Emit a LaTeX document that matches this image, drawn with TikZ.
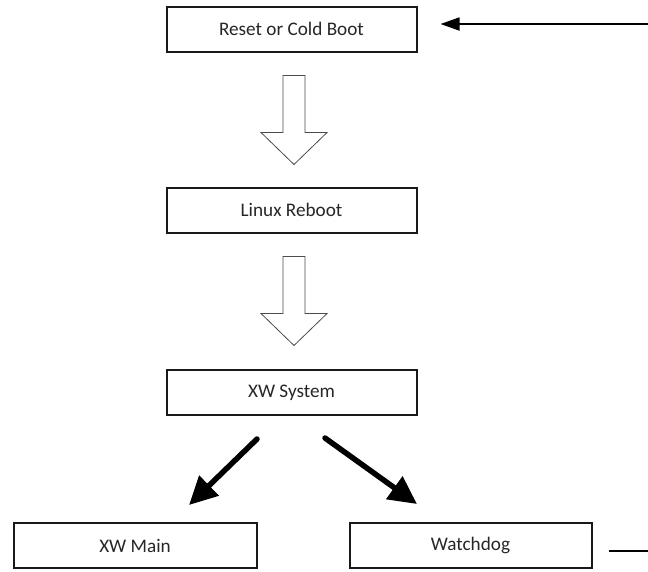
\documentclass[tikz,border=0pt]{standalone}
\usepackage{fontspec}
\setmainfont{Carlito}
\usetikzlibrary{arrows.meta,positioning}

\begin{document}
\begin{tikzpicture}[x=1pt,y=-1pt,font=\fontsize{19.2}{23}\selectfont,
  box/.style={draw=black!90,line width=2pt,minimum width=250pt,minimum height=45pt,
              inner sep=0pt,text=black!85},
  hollow/.style={draw=black!70,line width=0.8pt,fill=white,line join=miter},
  arr/.style={line width=1.8pt,-{Triangle[length=19pt,width=13pt]}},
  bigarr/.style={line width=5.5pt,line cap=round,-{Triangle[length=28pt,width=27pt]}}]
\useasboundingbox (0,0) rectangle (648,571);
\node[box] (reset) at (291.5,29) {Reset or Cold Boot};
\node[box] (linux) at (291.5,210) {Linux Reboot};
\node[box] (xwsys) at (291.5,392.5) {XW System};
\node[box,minimum width=243pt] (xwmain) at (135,545.5) {XW Main};
\node[box,minimum width=242pt] (watchdog) at (470.5,545.5) {Watchdog};
\coordinate (loopin) at (648,24);
\coordinate (loopout) at (648,551);
% hollow block arrows
\foreach \n in {reset,linux}
  \draw[hollow] ([xshift=-8.5pt,yshift=-23pt]\n.south) -- ++(0,57) -- ++(-22,0)
    -- ++(33,32) -- ++(33,-32) -- ++(-22,0) -- ++(0,-57) -- cycle;
\draw[bigarr] ([xshift=-34.5pt,yshift=-23pt]xwsys.south) -- ([xshift=54pt,yshift=17pt]xwmain.north);
\draw[bigarr] ([xshift=33.5pt,yshift=-22pt]xwsys.south) -- ([xshift=-53.5pt,yshift=18pt]watchdog.north);
\draw[arr] (loopin) -- ([xshift=23pt,yshift=5pt]reset.east);
\draw[line width=1.8pt] ([xshift=16pt,yshift=-5.5pt]watchdog.east) -- (loopout);
\end{tikzpicture}
\end{document}
